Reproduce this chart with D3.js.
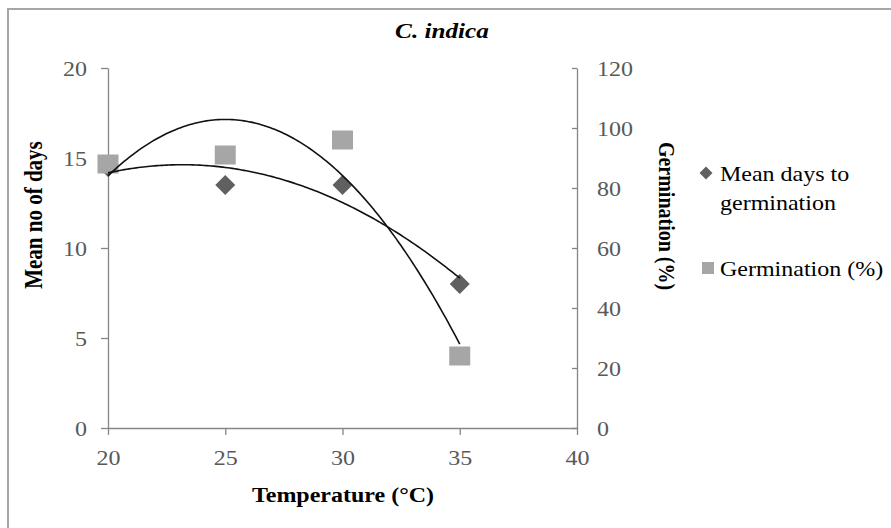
<!DOCTYPE html>
<html><head><meta charset="utf-8">
<script src="https://cdn.jsdelivr.net/npm/d3@7"></script>
<style>
html,body{margin:0;padding:0;background:#fff;}
svg{display:block;font-family:"Liberation Serif","Times New Roman",serif;}
</style></head>
<body>
<svg id="chart" width="891" height="528"></svg>
<script>
// ---- data ----
const temperatures = [20, 25, 30, 35];
const meanDays = [14.5, 13.5, 13.5, 8];
const germination = [88, 91, 96, 24];
const xTicks = [20, 25, 30, 35, 40];
const leftTicks = [0, 5, 10, 15, 20];
const rightTicks = [0, 20, 40, 60, 80, 100, 120];
const title = "C. indica";
const xTitle = "Temperature (°C)";
const leftTitle = "Mean no of days";
const rightTitle = "Germination (%)";
const legendLabels = [["Mean days to", "germination"], ["Germination (%)"]];

const SX = 1.2; // horizontal stretch of the reference image
const svg = d3.select("#chart");

const x = d3.scaleLinear().domain([20, 40]).range([108, 577]);
const yL = d3.scaleLinear().domain([0, 20]).range([428, 68]);
const yR = d3.scaleLinear().domain([0, 120]).range([428, 68]);

// outer border
svg.append("rect").attr("x", 8).attr("y", 9).attr("width", 900).attr("height", 540)
  .attr("fill", "none").attr("stroke", "#a6a6a6").attr("stroke-width", 2);

const axisColor = "#868686", tickColor = "#595959";

function styleAxis(g, dx, anchor, dy) {
  g.select(".domain").attr("stroke", axisColor).attr("stroke-width", 1.3);
  g.selectAll(".tick line").attr("stroke", axisColor).attr("stroke-width", 1.3);
  g.selectAll(".tick text").attr("x", null).attr("y", null).attr("dy", null)
    .attr("fill", tickColor).attr("font-size", 20)
    .attr("font-family", "Liberation Serif")
    .attr("text-anchor", anchor)
    .attr("transform", `translate(${dx},${dy}) scale(${SX},1)`);
}

const gx = svg.append("g").attr("transform", "translate(0,428)")
  .call(d3.axisBottom(x).tickValues(xTicks).tickSize(7).tickSizeOuter(0));
styleAxis(gx, 0, "middle", 37);

const gl = svg.append("g").attr("transform", "translate(108,0)")
  .call(d3.axisLeft(yL).tickValues(leftTicks).tickSize(7).tickSizeOuter(0));
styleAxis(gl, -21, "end", 7);

const gr = svg.append("g").attr("transform", "translate(577,0)")
  .call(d3.axisRight(yR).tickValues(rightTicks).tickSize(-5).tickSizeOuter(0));
styleAxis(gr, 20, "start", 7);

// markers
const diamond = (cx, cy, r) => `M${cx},${cy - r}L${cx + r},${cy}L${cx},${cy + r}L${cx - r},${cy}Z`;
svg.append("g").selectAll("path").data(temperatures).join("path")
  .attr("d", (t, i) => diamond(x(t), yL(meanDays[i]), 10))
  .attr("fill", "#606060");
svg.append("g").selectAll("rect").data(temperatures).join("rect")
  .attr("x", (t) => x(t) - 10.5).attr("y", (t, i) => yR(germination[i]) - 9.5)
  .attr("width", 21).attr("height", 19).attr("fill", "#a6a6a6");

// polynomial (order 2) trendlines, least squares from the data
function quadFit(xs, ys) {
  const n = xs.length;
  let s = [0, 0, 0, 0, 0], t = [0, 0, 0];
  xs.forEach((xv, i) => {
    for (let k = 0; k < 5; k++) s[k] += Math.pow(xv, k);
    for (let k = 0; k < 3; k++) t[k] += ys[i] * Math.pow(xv, k);
  });
  const A = [[s[0], s[1], s[2], t[0]], [s[1], s[2], s[3], t[1]], [s[2], s[3], s[4], t[2]]];
  for (let c = 0; c < 3; c++) {
    for (let r = c + 1; r < 3; r++) {
      const f = A[r][c] / A[c][c];
      for (let k = c; k < 4; k++) A[r][k] -= f * A[c][k];
    }
  }
  const coef = [0, 0, 0];
  for (let r = 2; r >= 0; r--) {
    let v = A[r][3];
    for (let k = r + 1; k < 3; k++) v -= A[r][k] * coef[k];
    coef[r] = v / A[r][r];
  }
  return (xv) => coef[0] + coef[1] * xv + coef[2] * xv * xv;
}
const fDays = quadFit(temperatures, meanDays);
const fGerm = quadFit(temperatures, germination);
const xs = d3.range(20, 35.0001, 0.1);
const line = d3.line().curve(d3.curveLinear);
svg.append("path").attr("d", line(xs.map(v => [x(v), yL(fDays(v))])))
  .attr("fill", "none").attr("stroke", "#111").attr("stroke-width", 1.6);
svg.append("path").attr("d", line(xs.map(v => [x(v), yR(fGerm(v))])))
  .attr("fill", "none").attr("stroke", "#111").attr("stroke-width", 1.6);

// titles
svg.append("text").attr("transform", `translate(442,38) scale(${SX},1)`)
  .attr("text-anchor", "middle").attr("font-size", 21).attr("font-weight", "bold")
  .attr("font-style", "italic").attr("fill", "#000").text(title);
svg.append("text").attr("transform", `translate(343,502) scale(${SX},1)`)
  .attr("text-anchor", "middle").attr("font-size", 20).attr("font-weight", "bold")
  .attr("fill", "#000").text(xTitle);
svg.append("text").attr("transform", `translate(42,215) scale(${SX},1) rotate(-90)`)
  .attr("text-anchor", "middle").attr("font-size", 21).attr("font-weight", "bold")
  .attr("fill", "#000").text(leftTitle);
svg.append("text").attr("transform", `translate(659,216) scale(${SX},1) rotate(90)`)
  .attr("text-anchor", "middle").attr("font-size", 20).attr("font-weight", "bold")
  .attr("fill", "#000").text(rightTitle);

// legend
const lg = svg.append("g");
lg.append("path").attr("d", diamond(706, 173, 6.5)).attr("fill", "#606060");
lg.append("rect").attr("x", 702).attr("y", 262).attr("width", 12).attr("height", 12).attr("fill", "#a6a6a6");
lg.append("text").attr("transform", `translate(720,181) scale(${SX},1)`)
  .attr("font-size", 20).attr("fill", "#000").text(legendLabels[0][0]);
lg.append("text").attr("transform", `translate(720,210) scale(${SX},1)`)
  .attr("font-size", 20).attr("fill", "#000").text(legendLabels[0][1]);
lg.append("text").attr("transform", `translate(720,276) scale(${SX},1)`)
  .attr("font-size", 20).attr("fill", "#000").text(legendLabels[1][0]);
</script>
</body></html>
